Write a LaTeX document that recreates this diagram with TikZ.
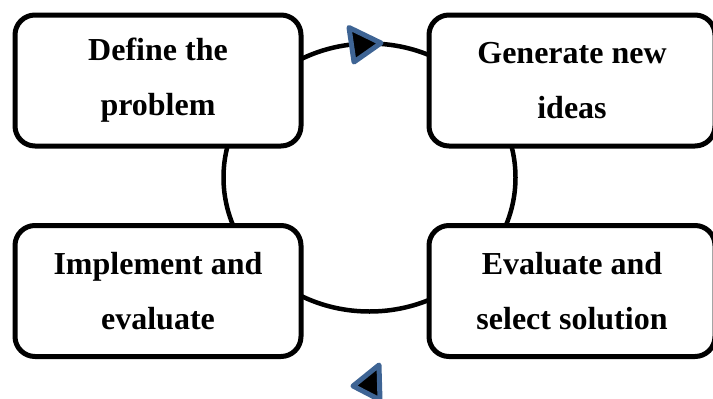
\documentclass[tikz,border=0pt]{standalone}
\usepackage{fontspec}
\setmainfont{Liberation Serif}
\definecolor{arrowblue}{RGB}{62,100,148}
\begin{document}
\begin{tikzpicture}[x=1pt,y=-1pt,
  stepbox/.style={draw=black,line width=5pt,rounded corners=20pt,fill=white,
    minimum width=286pt,minimum height=131pt,align=center,inner sep=0pt,
    font=\fontsize{32pt}{55pt}\selectfont\bfseries},
  cyc/.style={draw=black,line width=4.5pt},
  tri/.style={fill=black,draw=arrowblue,line width=5pt,line join=round}]
\useasboundingbox (0,0) rectangle (713,399);
\draw[cyc] (369.5,177.5) ellipse [x radius=146pt, y radius=134pt];
\node[stepbox] (A) at (158,80.5) {Define the\\problem};
\node[stepbox] (B) at (572,80.5) {Generate new\\ideas};
\node[stepbox] (C) at (158,291) {Implement and\\evaluate};
\node[stepbox] (D) at (572,291) {Evaluate and\\select solution};
\coordinate (t1) at (349,27.5);
\coordinate (t2) at (354,62);
\coordinate (t3) at (381,43);
\draw[tri] (t1) -- (t2) -- (t3) -- cycle;
\coordinate (b1) at (353,386);
\coordinate (b2) at (379,365);
\coordinate (b3) at (380,400);
\draw[tri] (b1) -- (b2) -- (b3) -- cycle;
\end{tikzpicture}
\end{document}
